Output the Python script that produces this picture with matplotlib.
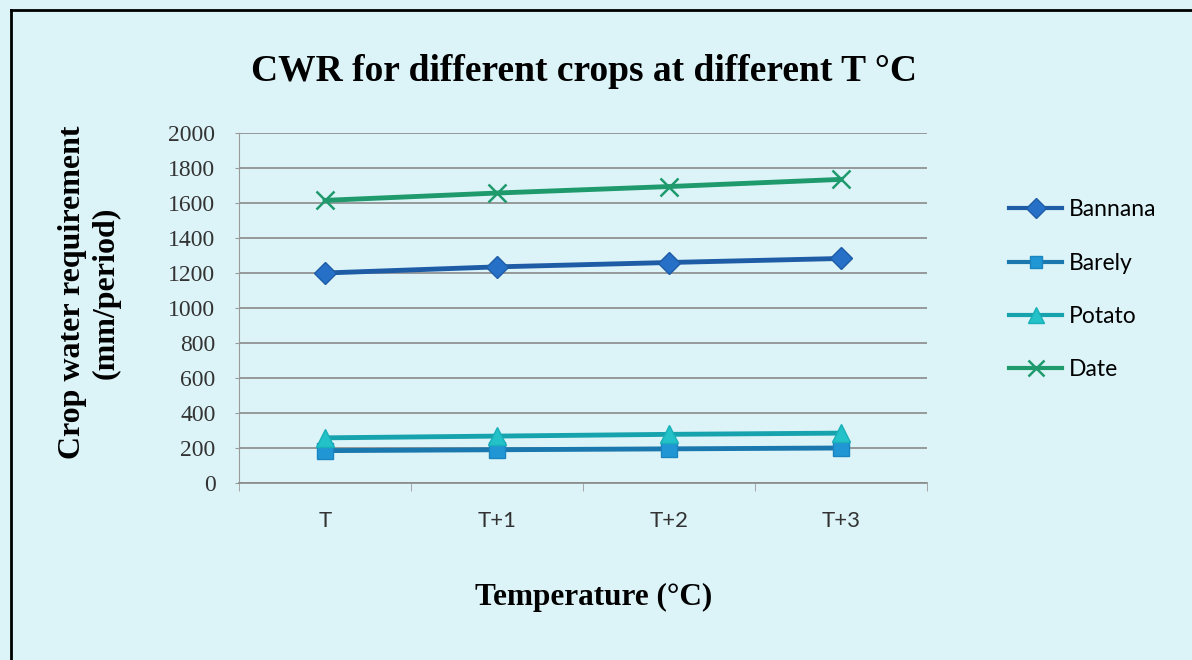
import numpy as np
import matplotlib
matplotlib.use('Agg')
from matplotlib import pyplot as plt

categories = ['T', 'T+1', 'T+2', 'T+3']
bannana = [1200, 1235, 1260, 1283]
barely = [185, 190, 195, 200]
potato = [258, 268, 278, 285]
date = [1615, 1657, 1694, 1735]

bg = '#dcf4f8'
x = np.arange(len(categories))

fig = plt.figure(figsize=(11.92, 6.6), dpi=100, facecolor=bg)
ax = fig.add_axes([239/1192, 1-483/660, 688/1192, 350/660], facecolor=bg)

ax.plot(x, bannana, color='#1f5ca6', lw=3.5, marker='D', ms=11.5,
        mfc='#2670c8', mec='#1f5ca6', label='Bannana', zorder=3)
ax.plot(x, barely, color='#1a78ae', lw=3.5, marker='s', ms=11,
        mfc='#2196d4', mec='#1a84c0', label='Barely', zorder=3)
ax.plot(x, potato, color='#17a3ad', lw=3.5, marker='^', ms=13,
        mfc='#22c2c8', mec='#19b0b8', label='Potato', zorder=4)
ax.plot(x, date, color='#1e9a6c', lw=3.5, marker='x', ms=13, mew=1.8,
        mec='#1e9a6c', label='Date', zorder=3)

ax.set_xlim(-0.5, 3.5)
ax.set_ylim(0, 2000)
ax.set_yticks(np.arange(0, 2001, 200))
ax.yaxis.grid(True, color='#8a8a8a', lw=1.2)
ax.set_axisbelow(True)
for s in ['top', 'right']:
    ax.spines[s].set_visible(False)
ax.spines['left'].set_color('#9a9a9a')
ax.spines['bottom'].set_color('#8a8a8a')
ax.spines['bottom'].set_linewidth(1.2)

ax.set_xticks(x)
ax.set_xticklabels(categories, family='Lato', fontsize=16, color='#333333')
ax.set_xticks(np.arange(-0.5, 4, 1), minor=True)
ax.tick_params(axis='x', which='major', length=0, pad=20)
ax.tick_params(axis='x', which='minor', length=6, color='#9a9a9a', direction='out')
ax.tick_params(axis='y', length=3, color='#9a9a9a', pad=14)
for lab in ax.get_yticklabels():
    lab.set_family('Liberation Serif')
    lab.set_fontsize(17)
    lab.set_color('#333333')

fig.text(0.490, 0.891, 'CWR for different crops at different T °C',
         family='Liberation Serif', weight='bold', fontsize=27,
         ha='center', va='center')
fig.text(0.075, 0.557, 'Crop water requirement\n(mm/period)',
         family='Liberation Serif', weight='bold', fontsize=23,
         ha='center', va='center', rotation=90, linespacing=1.2)
fig.text(0.498, 0.094, 'Temperature (°C)',
         family='Liberation Serif', weight='bold', fontsize=22.5,
         ha='center', va='center')

leg = fig.legend(loc='upper left', bbox_to_anchor=(998/1192, 1-188/660),
                 frameon=False, prop={'family': 'Lato', 'size': 16.5},
                 handlelength=2.3, handletextpad=0.3, labelspacing=1.4,
                 borderpad=0, markerscale=0.85)
for h in leg.legend_handles:
    h.set_linewidth(3)

# outer border of the chart box
fig.add_artist(plt.Line2D([11/1192, 11/1192], [0, 1-10/660], color='black', lw=2))
fig.add_artist(plt.Line2D([11/1192, 1], [1-10/660, 1-10/660], color='black', lw=2))

fig.savefig('out.png', dpi=100, facecolor=bg)
